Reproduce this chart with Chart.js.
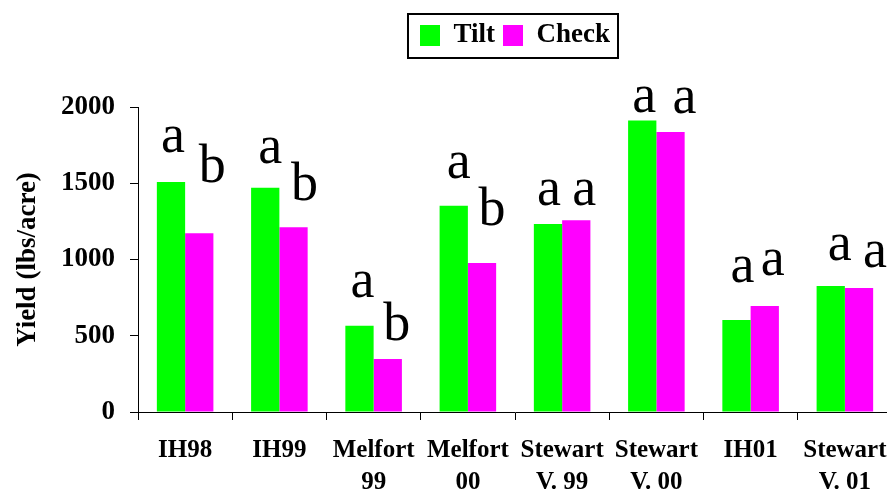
<!DOCTYPE html>
<html>
<head>
<meta charset="utf-8">
<script src="https://cdn.jsdelivr.net/npm/chart.js@4"></script>
<style>
    html, body { margin: 0; padding: 0; background: #fff; overflow: hidden; }
    #wrap { width: 892px; height: 494px; }
</style>
</head>
<body>
<div id="wrap"><canvas id="yieldChart" width="892" height="494"></canvas></div>
<script>
// sites (x axis), two lines where the label wraps
const sites = [["IH98"], ["IH99"], ["Melfort", "99"], ["Melfort", "00"], ["Stewart", "V. 99"], ["Stewart", "V. 00"], ["IH01"], ["Stewart", "V. 01"]];

// yield, lbs/acre
const tiltYield = [1508, 1470, 565, 1352, 1233, 1912, 603, 826];
const checkYield = [1172, 1212, 348, 977, 1258, 1836, 695, 813];

// significance letters above each bar
const tiltLetters = ["a", "a", "a", "a", "a", "a", "a", "a"];
const checkLetters = ["b", "b", "b", "b", "a", "a", "a", "a"];

const yTicks = [0, 500, 1000, 1500, 2000];

const serif = "'Liberation Serif', 'Times New Roman', serif";

// letters are hand placed in the original, so each one gets a small nudge
const letterNudge = [
    [[2, -30], [5, -25], [3, -29], [5, -28], [1, -19], [2, -8], [6, -38], [9, -26]],
    [[13, -51], [11, -27], [9, -19], [10, -38], [8, -15], [14, -19], [8, -31], [16, -21]]
];

const lettersPlugin = {
    id: "letters",
    afterDatasetsDraw(chart) {
        const ctx = chart.ctx;
        ctx.save();
        ctx.font = "54px " + serif;
        ctx.fillStyle = "#000";
        ctx.textAlign = "center";
        ctx.textBaseline = "alphabetic";
        chart.data.datasets.forEach((ds, di) => {
            chart.getDatasetMeta(di).data.forEach((bar, i) => {
                const n = letterNudge[di][i];
                ctx.fillText(ds.letters[i], bar.x + n[0], bar.y + n[1]);
            });
        });
        ctx.restore();
    }
};

// box round the legend
const legendBorder = {
    id: "legendBorder",
    afterDraw(chart) {
        const boxes = chart.legend.legendHitBoxes;
        if (!boxes || !boxes.length) return;
        const left = Math.min(...boxes.map(b => b.left)) - 12;
        const right = Math.max(...boxes.map(b => b.left + b.width)) + 8;
        const top = Math.min(...boxes.map(b => b.top)) - 8;
        const bottom = Math.max(...boxes.map(b => b.top + b.height)) + 9;
        const ctx = chart.ctx;
        ctx.save();
        ctx.strokeStyle = "#000";
        ctx.lineWidth = 2;
        ctx.strokeRect(left, top, right - left, bottom - top);
        ctx.restore();
    }
};

document.addEventListener("DOMContentLoaded", function () {
    const ctx = document.getElementById("yieldChart").getContext("2d");

    new Chart(ctx, {
        type: "bar",
        data: {
            labels: sites,
            datasets: [
                {
                    label: "Tilt",
                    data: tiltYield,
                    letters: tiltLetters,
                    backgroundColor: "#00ff00",
                    borderWidth: 0,
                },
                {
                    label: "Check",
                    data: checkYield,
                    letters: checkLetters,
                    backgroundColor: "#ff00ff",
                    borderWidth: 0,
                },
            ],
        },
        options: {
            responsive: false,
            animation: false,
            devicePixelRatio: 1,
            layout: { padding: { top: 14, left: 0, right: 0, bottom: 0 } },
            datasets: {
                bar: { categoryPercentage: 0.6, barPercentage: 1 }
            },
            plugins: {
                tooltip: { enabled: false },
                legend: {
                    position: "top",
                    fullSize: false,
                    labels: {
                        color: "#000",
                        font: { family: serif, size: 27, weight: "bold" },
                        boxWidth: 20,
                        boxHeight: 21,
                        padding: 8,
                    },
                },
                // empty title only used as a spacer under the legend
                title: {
                    display: true,
                    text: "",
                    weight: 500,
                    fullSize: false,
                    font: { size: 10, lineHeight: 1 },
                    padding: { top: 0, bottom: 38 },
                },
            },
            scales: {
                x: {
                    grid: {
                        offset: true,
                        drawOnChartArea: false,
                        color: "#000",
                        tickLength: 8,
                    },
                    border: { color: "#000", width: 1 },
                    ticks: {
                        color: "#000",
                        font: { family: serif, size: 25, weight: "bold", lineHeight: 1.28 },
                        padding: 15,
                        maxRotation: 0,
                        autoSkip: false,
                    },
                    afterFit(scale) {
                        scale.height = 82;
                        scale.paddingLeft = 0;
                        scale.paddingRight = 0;
                    },
                },
                y: {
                    min: 0,
                    max: 2000,
                    afterBuildTicks(scale) {
                        scale.ticks = yTicks.map(v => ({ value: v }));
                    },
                    grid: {
                        drawOnChartArea: false,
                        color: "#000",
                        tickLength: 8,
                    },
                    border: { color: "#000", width: 1 },
                    ticks: {
                        color: "#000",
                        font: { family: serif, size: 27, weight: "bold" },
                        padding: 15,
                        callback: v => String(v),
                    },
                    title: {
                        display: true,
                        text: "Yield (lbs/acre)",
                        color: "#000",
                        font: { family: serif, size: 27, weight: "bold" },
                        padding: { top: 12, bottom: 0 },
                    },
                    afterFit(scale) { scale.width = 138; },
                },
            },
        },
        plugins: [lettersPlugin, legendBorder],
    });
});
</script>
</body>
</html>
